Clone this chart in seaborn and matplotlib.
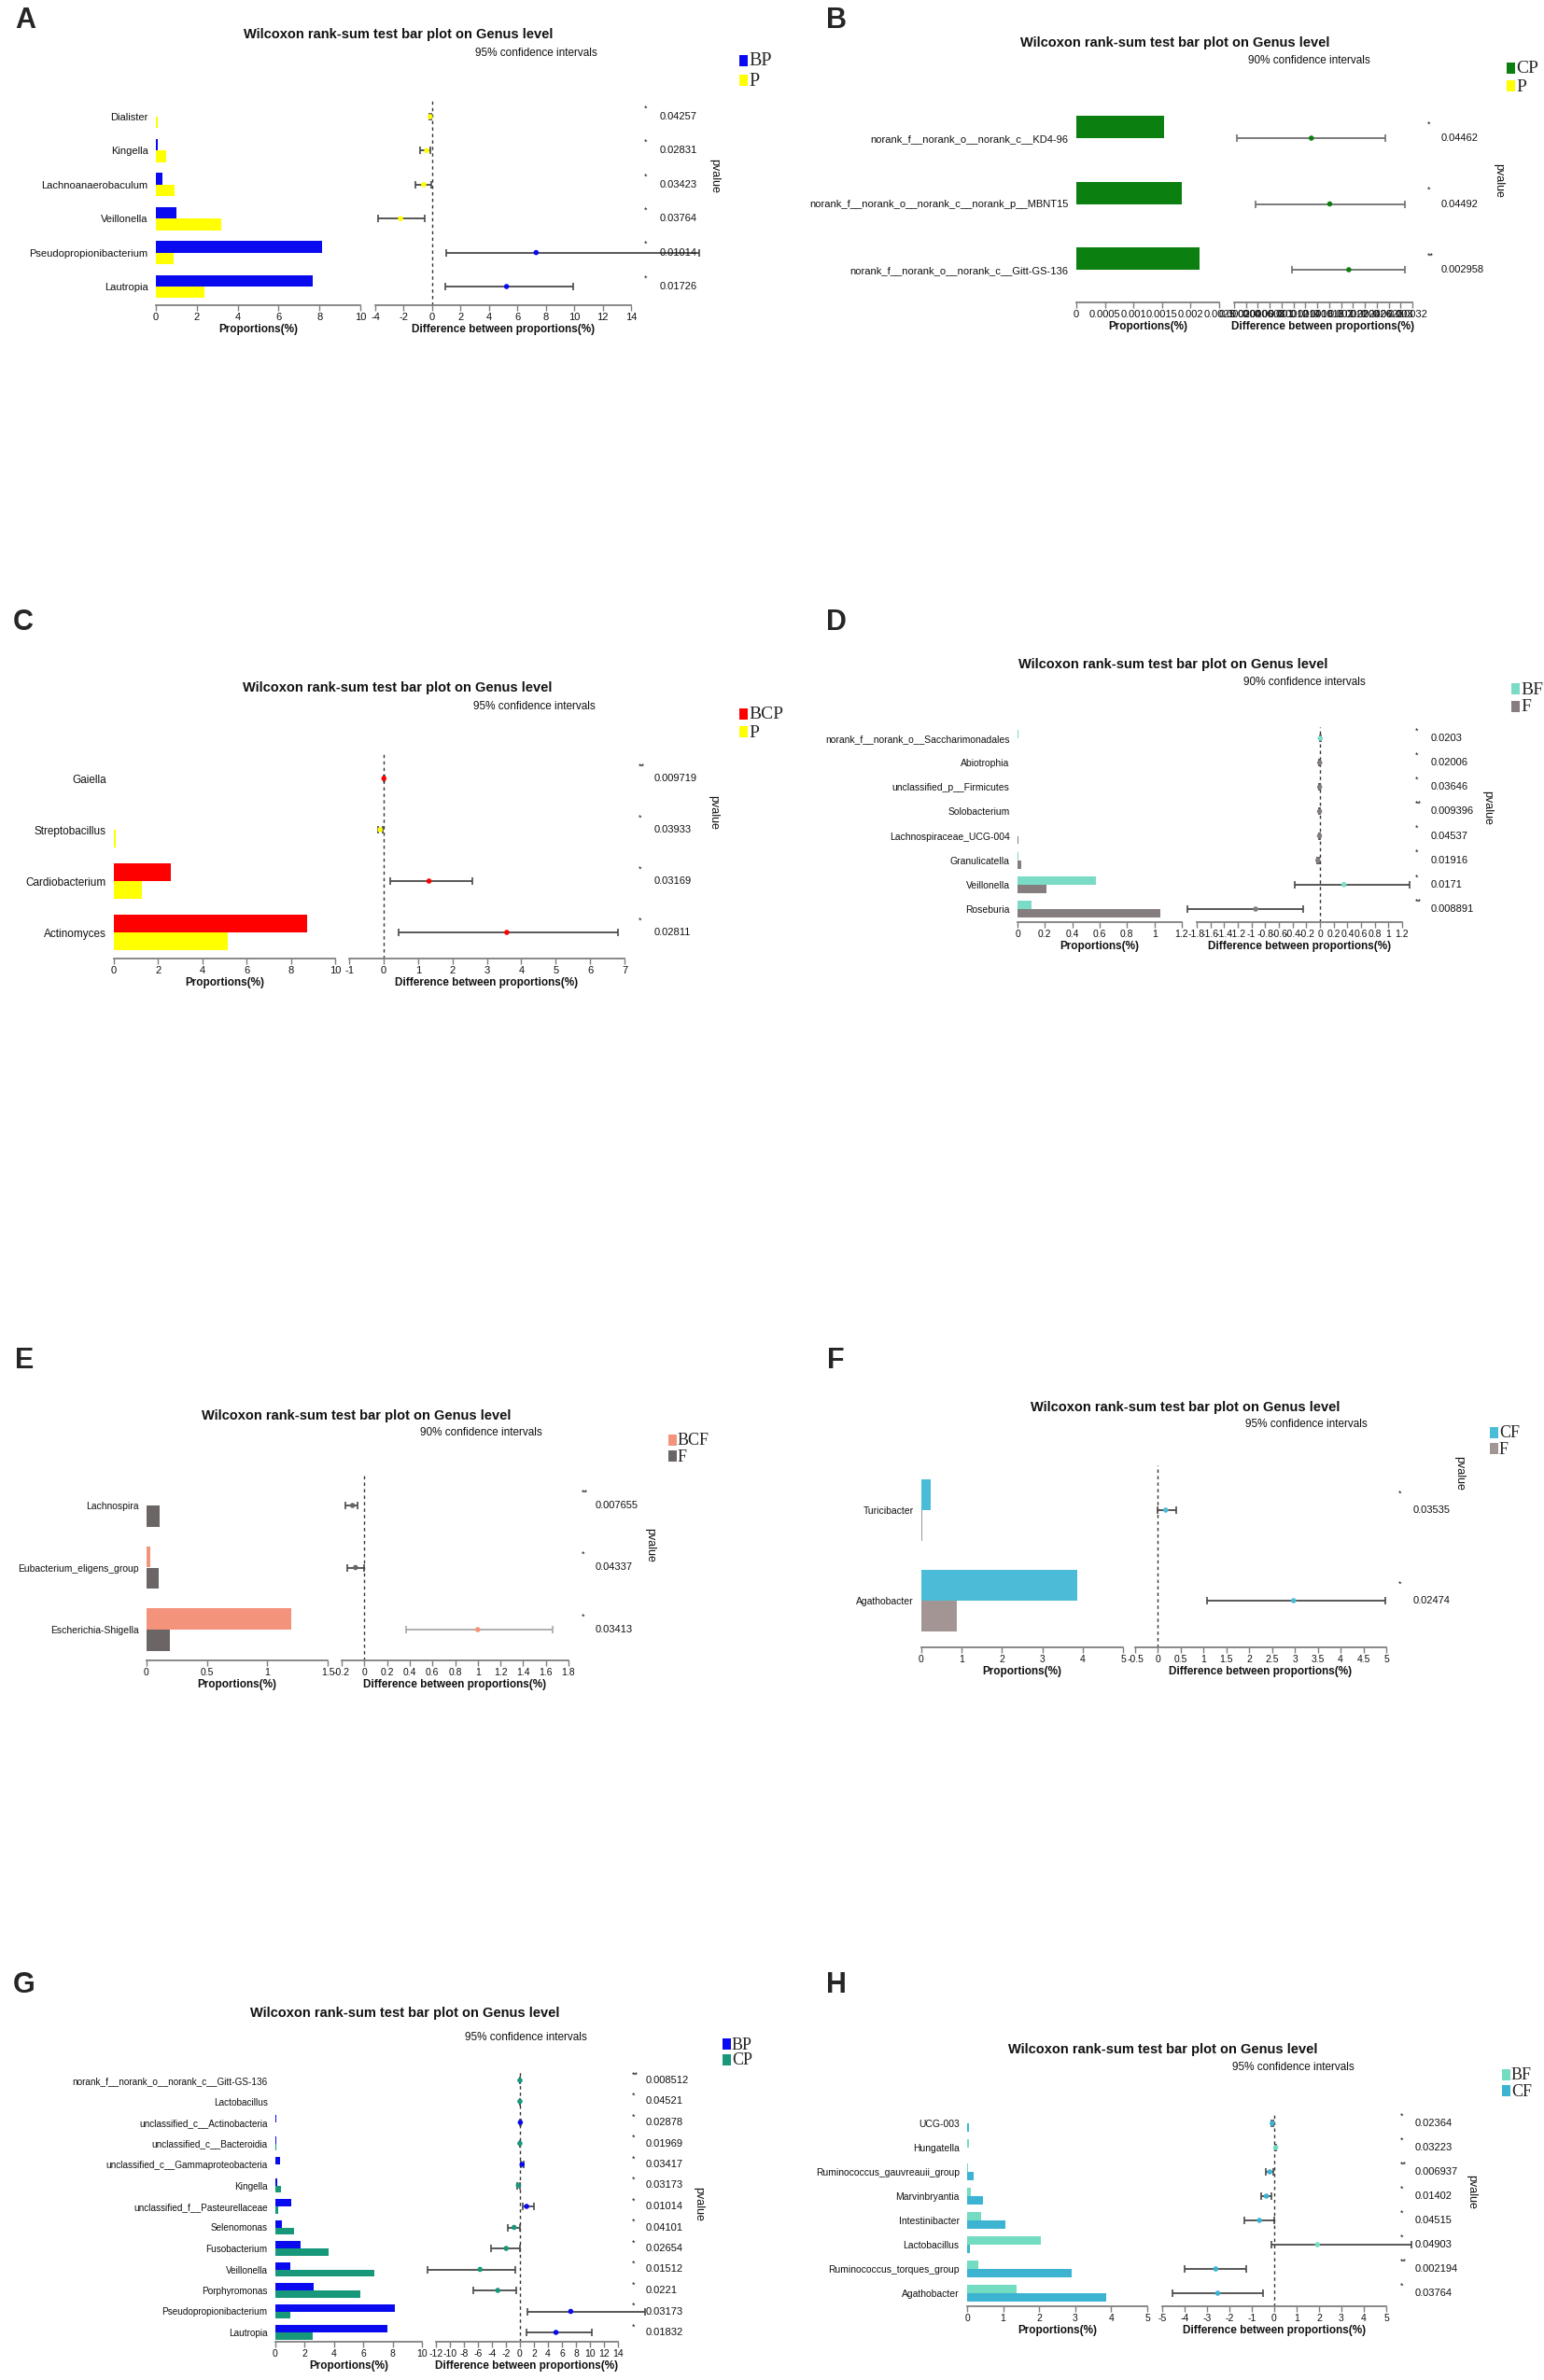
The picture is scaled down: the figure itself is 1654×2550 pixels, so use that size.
import numpy as np
import pandas as pd
import matplotlib
matplotlib.use("Agg")
import matplotlib.pyplot as plt
from matplotlib.patches import Rectangle
from matplotlib.ticker import FuncFormatter, FixedLocator
import seaborn as sns

sns.set_theme(style="white")
plt.rcParams['font.family'] = ['Liberation Sans', 'DejaVu Sans']

W, H = 1654, 2550
fig = plt.figure(figsize=(W / 100, H / 100), dpi=100)

# ---------------- DATA ----------------
# Panel A  (BP vs P)
a_cats = ["Dialister", "Kingella", "Lachnoanaerobaculum", "Veillonella",
          "Pseudopropionibacterium", "Lautropia"]
a_groups = ["BP", "P"]
a_g1 = [0.02, 0.07, 0.30, 1.00, 8.15, 7.65]
a_g2 = [0.07, 0.48, 0.92, 3.20, 0.85, 2.37]
a_diff = [-0.14, -0.38, -0.59, -2.22, 7.32, 5.24]
a_lo = [-0.20, -0.87, -1.18, -3.78, 0.97, 0.90]
a_hi = [-0.05, -0.14, -0.07, -0.55, 18.8, 9.92]
a_p = ["0.04257", "0.02831", "0.03423", "0.03764", "0.01014", "0.01726"]
a_star = ["*", "*", "*", "*", "*", "*"]

# Panel B  (CP vs P)
b_cats = ["norank_f__norank_o__norank_c__KD4-96",
          "norank_f__norank_o__norank_c__norank_p__MBNT15",
          "norank_f__norank_o__norank_c__Gitt-GS-136"]
b_groups = ["CP", "P"]
b_g1 = [0.00153, 0.00184, 0.00215]
b_g2 = [0.0, 0.0, 0.0]
b_diff = [0.00150, 0.00181, 0.00213]
b_lo = [0.00024, 0.00056, 0.00118]
b_hi = [0.00275, 0.00307, 0.00307]
b_p = ["0.04462", "0.04492", "0.002958"]
b_star = ["*", "*", "**"]

# Panel C  (BCP vs P)
c_cats = ["Gaiella", "Streptobacillus", "Cardiobacterium", "Actinomyces"]
c_groups = ["BCP", "P"]
c_g1 = [0.01, 0.01, 2.57, 8.73]
c_g2 = [0.0, 0.09, 1.25, 5.16]
c_diff = [0.01, -0.10, 1.32, 3.58]
c_lo = [-0.01, -0.16, 0.19, 0.44]
c_hi = [0.03, -0.03, 2.58, 6.80]
c_p = ["0.009719", "0.03933", "0.03169", "0.02811"]
c_star = ["**", "*", "*", "*"]

# Panel D  (BF vs F)
d_cats = ["norank_f__norank_o__Saccharimonadales", "Abiotrophia",
          "unclassified_p__Firmicutes", "Solobacterium",
          "Lachnospiraceae_UCG-004", "Granulicatella", "Veillonella", "Roseburia"]
d_groups = ["BF", "F"]
d_g1 = [0.004, 0.001, 0.0, 0.0, 0.003, 0.005, 0.57, 0.10]
d_g2 = [0.0, 0.003, 0.003, 0.003, 0.004, 0.03, 0.21, 1.04]
d_diff = [0.004, -0.004, -0.005, -0.006, -0.007, -0.03, 0.35, -0.94]
d_lo = [0.001, -0.008, -0.009, -0.010, -0.011, -0.045, -0.37, -1.94]
d_hi = [0.008, -0.001, -0.001, -0.002, -0.002, -0.015, 1.31, -0.24]
d_p = ["0.0203", "0.02006", "0.03646", "0.009396", "0.04537", "0.01916",
       "0.0171", "0.008891"]
d_star = ["*", "*", "*", "**", "*", "*", "*", "**"]

# Panel E  (BCF vs F)
e_cats = ["Lachnospira", "Eubacterium_eligens_group", "Escherichia-Shigella"]
e_groups = ["BCF", "F"]
e_g1 = [0.0, 0.03, 1.20]
e_g2 = [0.105, 0.10, 0.19]
e_diff = [-0.104, -0.078, 1.00]
e_lo = [-0.165, -0.152, 0.37]
e_hi = [-0.056, 0.0, 1.66]
e_p = ["0.007655", "0.04337", "0.03413"]
e_star = ["**", "*", "*"]

# Panel F  (CF vs F)
f_cats = ["Turicibacter", "Agathobacter"]
f_groups = ["CF", "F"]
f_g1 = [0.23, 3.87]
f_g2 = [0.02, 0.89]
f_diff = [0.17, 2.97]
f_lo = [0.0, 1.08]
f_hi = [0.40, 4.97]
f_p = ["0.03535", "0.02474"]
f_star = ["*", "*"]

# Panel G  (BP vs CP)
g_cats = ["norank_f__norank_o__norank_c__Gitt-GS-136", "Lactobacillus",
          "unclassified_c__Actinobacteria", "unclassified_c__Bacteroidia",
          "unclassified_c__Gammaproteobacteria", "Kingella",
          "unclassified_f__Pasteurellaceae", "Selenomonas", "Fusobacterium",
          "Veillonella", "Porphyromonas", "Pseudopropionibacterium", "Lautropia"]
g_groups = ["BP", "CP"]
g_g1 = [0.0, 0.0, 0.06, 0.05, 0.30, 0.13, 1.10, 0.44, 1.72, 1.01, 2.59, 8.18, 7.64]
g_g2 = [0.005, 0.005, 0.01, 0.06, 0.02, 0.37, 0.20, 1.28, 3.64, 6.73, 5.79, 1.01, 2.52]
g_diff = [-0.005, -0.005, 0.05, -0.01, 0.30, -0.23, 0.95, -0.84, -1.97, -5.70, -3.17, 7.25, 5.14]
g_lo = [-0.05, -0.05, 0.0, -0.06, 0.10, -0.40, 0.35, -1.76, -4.08, -13.2, -6.69, 1.13, 0.92]
g_hi = [0.04, 0.04, 0.10, 0.04, 0.50, -0.05, 1.97, 0.0, 0.0, -0.70, -0.56, 17.9, 10.28]
g_p = ["0.008512", "0.04521", "0.02878", "0.01969", "0.03417", "0.03173", "0.01014",
       "0.04101", "0.02654", "0.01512", "0.0221", "0.03173", "0.01832"]
g_star = ["**", "*", "*", "*", "*", "*", "*", "*", "*", "*", "*", "*", "*"]

# Panel H  (BF vs CF)
h_cats = ["UCG-003", "Hungatella", "Ruminococcus_gauvreauii_group", "Marvinbryantia",
          "Intestinibacter", "Lactobacillus", "Ruminococcus_torques_group", "Agathobacter"]
h_groups = ["BF", "CF"]
h_g1 = [0.0, 0.05, 0.02, 0.11, 0.40, 2.05, 0.30, 1.38]
h_g2 = [0.04, 0.01, 0.19, 0.44, 1.05, 0.08, 2.90, 3.87]
h_diff = [-0.09, 0.07, -0.20, -0.35, -0.66, 1.93, -2.61, -2.52]
h_lo = [-0.13, 0.03, -0.39, -0.57, -1.32, -0.13, -3.99, -4.54]
h_hi = [-0.05, 0.10, -0.04, -0.13, 0.0, 6.14, -1.23, -0.48]
h_p = ["0.02364", "0.03223", "0.006937", "0.01402", "0.04515", "0.04903",
       "0.002194", "0.03764"]
h_star = ["*", "*", "**", "*", "*", "*", "**", "*"]


# ---------------- HELPERS ----------------
def rfmt(v, pos=None):
    v = round(v, 10)
    if abs(v) < 1e-12:
        return "0"
    return f"{v:g}"


def add_ax(x0, x1, ytop, ybot):
    return fig.add_axes([x0 / W, 1 - ybot / H, (x1 - x0) / W, (ybot - ytop) / H])


def style_axis(ax, xlim, ticks, tick_fs):
    ax.set_xlim(*xlim)
    ax.xaxis.set_major_locator(FixedLocator(ticks))
    ax.xaxis.set_major_formatter(FuncFormatter(rfmt))
    for s in ["left", "right", "top"]:
        ax.spines[s].set_visible(False)
    ax.spines["bottom"].set_color("#7f7f7f")
    ax.spines["bottom"].set_linewidth(1.3)
    ax.tick_params(axis="x", which="major", bottom=True, direction="out", length=4,
                   width=1, color="#7f7f7f", labelsize=tick_fs, pad=1.5, labelcolor="#111111")
    ax.grid(False)
    ax.set_facecolor("none")


def panel(letter, letter_xy, cats, groups, g1, g2, diff, lo, hi, pvals, stars, colors,
          bar_x, bar_xlim, bar_ticks, diff_x, diff_xlim, diff_ticks,
          row0, rowN, ax_top, ax_bot, title_xy, ci_text, ci_xy, leg_xy, leg_dy, leg_fs,
          star_x, star_dy, pv_x, pval_xy, lab_fs=8, tick_fs=8, zero_line=True,
          ecolors=None, xlab_pad=2):
    n = len(cats)
    s = (rowN - row0) / (n - 1)
    ylim = ((ax_bot - row0) / s, (ax_top - row0) / s)

    # ---- bar axes
    ax = add_ax(bar_x[0], bar_x[1], ax_top, ax_bot)
    df = pd.DataFrame({
        "cat": list(cats) * 2,
        "group": [groups[0]] * n + [groups[1]] * n,
        "val": list(g1) + list(g2),
    })
    sns.barplot(data=df, y="cat", x="val", hue="group", order=cats, hue_order=groups,
                palette=colors, orient="h", width=0.68, saturation=1, errorbar=None,
                legend=False, linewidth=0, ax=ax)
    style_axis(ax, bar_xlim, bar_ticks, tick_fs)
    ax.set_ylim(*ylim)
    ax.set_ylabel("")
    ax.set_yticks(range(n))
    ax.set_yticklabels(cats, fontsize=lab_fs, color="#111111")
    ax.tick_params(axis="y", length=0, pad=6)
    ax.set_xlabel("Proportions(%)", fontsize=8.5, fontweight="bold", labelpad=xlab_pad,
                  color="#111111")

    # ---- difference axes
    ax2 = add_ax(diff_x[0], diff_x[1], ax_top, ax_bot)
    pos = np.arange(n)
    d = np.array(diff)
    hue = [groups[0] if v > 0 else groups[1] for v in d]
    if zero_line:
        ax2.axvline(0, color="#333333", lw=1.0, ls=(0, (2.5, 2.5)), zorder=1)
    if ecolors is None:
        ecolors = ["#4a4a4a"] * n
    for i in range(n):
        eb = ax2.errorbar([d[i]], [pos[i]], xerr=[[d[i] - lo[i]], [hi[i] - d[i]]],
                          fmt="none", ecolor=ecolors[i], elinewidth=1.3, capsize=2.6,
                          capthick=1.2, zorder=2)
        for art in eb.get_children():
            art.set_clip_on(False)
    pdf = pd.DataFrame({"diff": d, "pos": pos, "grp": hue})
    sns.scatterplot(data=pdf, x="diff", y="pos", hue="grp",
                    palette={groups[0]: colors[0], groups[1]: colors[1]},
                    s=16, linewidth=0, legend=False, ax=ax2, zorder=3, clip_on=False)
    style_axis(ax2, diff_xlim, diff_ticks, tick_fs)
    ax2.set_ylim(*ylim)
    ax2.set_yticks([])
    ax2.set_ylabel("")
    ax2.set_xlabel("Difference between proportions(%)", fontsize=8.5, fontweight="bold",
                   labelpad=xlab_pad, color="#111111")

    # ---- p values
    for i in range(n):
        y = row0 + i * s
        fig.text(star_x / W, 1 - (y - star_dy) / H, stars[i], fontsize=6.5,
                 ha="left", va="center", color="#111111")
        fig.text(pv_x / W, 1 - y / H, pvals[i], fontsize=8, ha="left", va="center",
                 color="#111111")
    fig.text(pval_xy[0] / W, 1 - pval_xy[1] / H, "pvalue", rotation=270, fontsize=9,
             ha="center", va="center", color="#111111")

    # ---- titles
    fig.text(letter_xy[0] / W, 1 - letter_xy[1] / H, letter, fontsize=22,
             fontweight="bold", ha="left", va="center")
    fig.text(title_xy[0] / W, 1 - title_xy[1] / H,
             "Wilcoxon rank-sum test bar plot on Genus level", fontsize=10.5,
             fontweight="bold", ha="center", va="center", color="#111111")
    fig.text(ci_xy[0] / W, 1 - ci_xy[1] / H, ci_text, fontsize=8.5,
             ha="center", va="center", color="#111111")

    # ---- legend
    for k, (g, c) in enumerate(zip(groups, colors)):
        yc = leg_xy[1] + k * leg_dy
        fig.patches.append(Rectangle(((leg_xy[0] - 4.5) / W, 1 - (yc + 6) / H),
                                     9 / W, 12 / H, transform=fig.transFigure,
                                     facecolor=c, edgecolor="none"))
        fig.text((leg_xy[0] + 6) / W, 1 - (yc + 1) / H, g, fontsize=leg_fs,
                 family=["Liberation Serif", "DejaVu Serif"], ha="left", va="center")


# ---------------- PANELS ----------------
BLUE, YEL, GREEN, RED = "#0a0af0", "#ffff00", "#0b7f10", "#ff0000"

panel("A", (16, 22), a_cats, a_groups, a_g1, a_g2, a_diff, a_lo, a_hi, a_p, a_star,
      [BLUE, YEL], bar_x=(167, 386), bar_xlim=(0, 10), bar_ticks=np.arange(0, 11, 2),
      diff_x=(402, 676), diff_xlim=(-4, 14), diff_ticks=np.arange(-4, 15, 2),
      row0=125, rowN=307, ax_top=107, ax_bot=327, title_xy=(427, 37),
      ci_text="95% confidence intervals", ci_xy=(574, 57), leg_xy=(796, 65), leg_dy=21,
      leg_fs=14.5, star_x=690, star_dy=9, pv_x=707, pval_xy=(765, 188))

panel("B", (885, 22), b_cats, b_groups, b_g1, b_g2, b_diff, b_lo, b_hi, b_p, b_star,
      [GREEN, YEL], bar_x=(1153, 1306), bar_xlim=(0, 0.0025),
      bar_ticks=np.arange(0, 0.00251, 0.0005),
      diff_x=(1322, 1513), diff_xlim=(0.0002, 0.0032),
      diff_ticks=np.arange(0.0002, 0.00321, 0.0002),
      row0=148, rowN=289, ax_top=100, ax_bot=324, title_xy=(1259, 46),
      ci_text="90% confidence intervals", ci_xy=(1402, 65), leg_xy=(1618, 73), leg_dy=19,
      leg_fs=14, star_x=1529, star_dy=15, pv_x=1544, pval_xy=(1605, 193),
      zero_line=False, ecolors=["#707070"] * 3)

panel("C", (14, 667), c_cats, c_groups, c_g1, c_g2, c_diff, c_lo, c_hi, c_p, c_star,
      [RED, YEL], bar_x=(122, 359), bar_xlim=(0, 10), bar_ticks=np.arange(0, 11, 2),
      diff_x=(374, 669), diff_xlim=(-1, 7), diff_ticks=np.arange(-1, 8, 1),
      row0=834, rowN=999, ax_top=807, ax_bot=1027, title_xy=(426, 737),
      ci_text="95% confidence intervals", ci_xy=(572, 757), leg_xy=(796, 765), leg_dy=19,
      leg_fs=14, star_x=684, star_dy=13, pv_x=701, pval_xy=(764, 870), lab_fs=8.5)

panel("D", (885, 667), d_cats, d_groups, d_g1, d_g2, d_diff, d_lo, d_hi, d_p, d_star,
      ["#7adbc6", "#857d7e"], bar_x=(1090, 1266), bar_xlim=(0, 1.2),
      bar_ticks=np.arange(0, 1.21, 0.2),
      diff_x=(1282, 1502), diff_xlim=(-1.8, 1.2), diff_ticks=np.arange(-1.8, 1.21, 0.2),
      row0=791, rowN=974, ax_top=779, ax_bot=988, title_xy=(1257, 712),
      ci_text="90% confidence intervals", ci_xy=(1397, 731), leg_xy=(1623, 738), leg_dy=19,
      leg_fs=14, star_x=1516, star_dy=8, pv_x=1533, pval_xy=(1593, 865), lab_fs=7.5,
      tick_fs=7.5)

panel("E", (16, 1458), e_cats, e_groups, e_g1, e_g2, e_diff, e_lo, e_hi, e_p, e_star,
      ["#f4937b", "#6b6566"], bar_x=(157, 351), bar_xlim=(0, 1.5),
      bar_ticks=np.arange(0, 1.51, 0.5),
      diff_x=(366, 609), diff_xlim=(-0.2, 1.8), diff_ticks=np.arange(-0.2, 1.81, 0.2),
      row0=1613, rowN=1746, ax_top=1580, ax_bot=1779, title_xy=(382, 1517),
      ci_text="90% confidence intervals", ci_xy=(515, 1535), leg_xy=(720, 1543), leg_dy=17,
      leg_fs=13, star_x=623, star_dy=14, pv_x=638, pval_xy=(696, 1655), lab_fs=7.5,
      tick_fs=7.5, ecolors=["#4a4a4a", "#4a4a4a", "#a8a8a8"])

panel("F", (886, 1458), f_cats, f_groups, f_g1, f_g2, f_diff, f_lo, f_hi, f_p, f_star,
      ["#4bbcd7", "#a49595"], bar_x=(987, 1203), bar_xlim=(0, 5),
      bar_ticks=np.arange(0, 5.1, 1),
      diff_x=(1216, 1485), diff_xlim=(-0.5, 5), diff_ticks=np.arange(-0.5, 5.01, 0.5),
      row0=1618, rowN=1715, ax_top=1570, ax_bot=1765, title_xy=(1270, 1508),
      ci_text="95% confidence intervals", ci_xy=(1399, 1526), leg_xy=(1600, 1535),
      leg_dy=17, leg_fs=13, star_x=1498, star_dy=18, pv_x=1514, pval_xy=(1563, 1578),
      lab_fs=7.5, tick_fs=7.5)

panel("G", (14, 2127), g_cats, g_groups, g_g1, g_g2, g_diff, g_lo, g_hi, g_p, g_star,
      [BLUE, "#17987a"], bar_x=(295, 452), bar_xlim=(0, 10), bar_ticks=np.arange(0, 11, 2),
      diff_x=(467, 662), diff_xlim=(-12, 14), diff_ticks=np.arange(-12, 15, 2),
      row0=2229, rowN=2499, ax_top=2218, ax_bot=2509, title_xy=(434, 2157),
      ci_text="95% confidence intervals", ci_xy=(563, 2183), leg_xy=(778, 2190),
      leg_dy=17, leg_fs=13, star_x=677, star_dy=6, pv_x=692, pval_xy=(748, 2361),
      lab_fs=7.2, tick_fs=7.5)

panel("H", (885, 2127), h_cats, h_groups, h_g1, h_g2, h_diff, h_lo, h_hi, h_p, h_star,
      ["#73dcc1", "#3bb3d1"], bar_x=(1036, 1229), bar_xlim=(0, 5),
      bar_ticks=np.arange(0, 5.1, 1),
      diff_x=(1245, 1485), diff_xlim=(-5, 5), diff_ticks=np.arange(-5, 5.1, 1),
      row0=2275, rowN=2457, ax_top=2263, ax_bot=2471, title_xy=(1246, 2196),
      ci_text="95% confidence intervals", ci_xy=(1385, 2215), leg_xy=(1613, 2223),
      leg_dy=17, leg_fs=13, star_x=1500, star_dy=8, pv_x=1516, pval_xy=(1576, 2348),
      lab_fs=7.5, tick_fs=7.5)

fig.savefig("out.png", dpi=100, facecolor="white")
